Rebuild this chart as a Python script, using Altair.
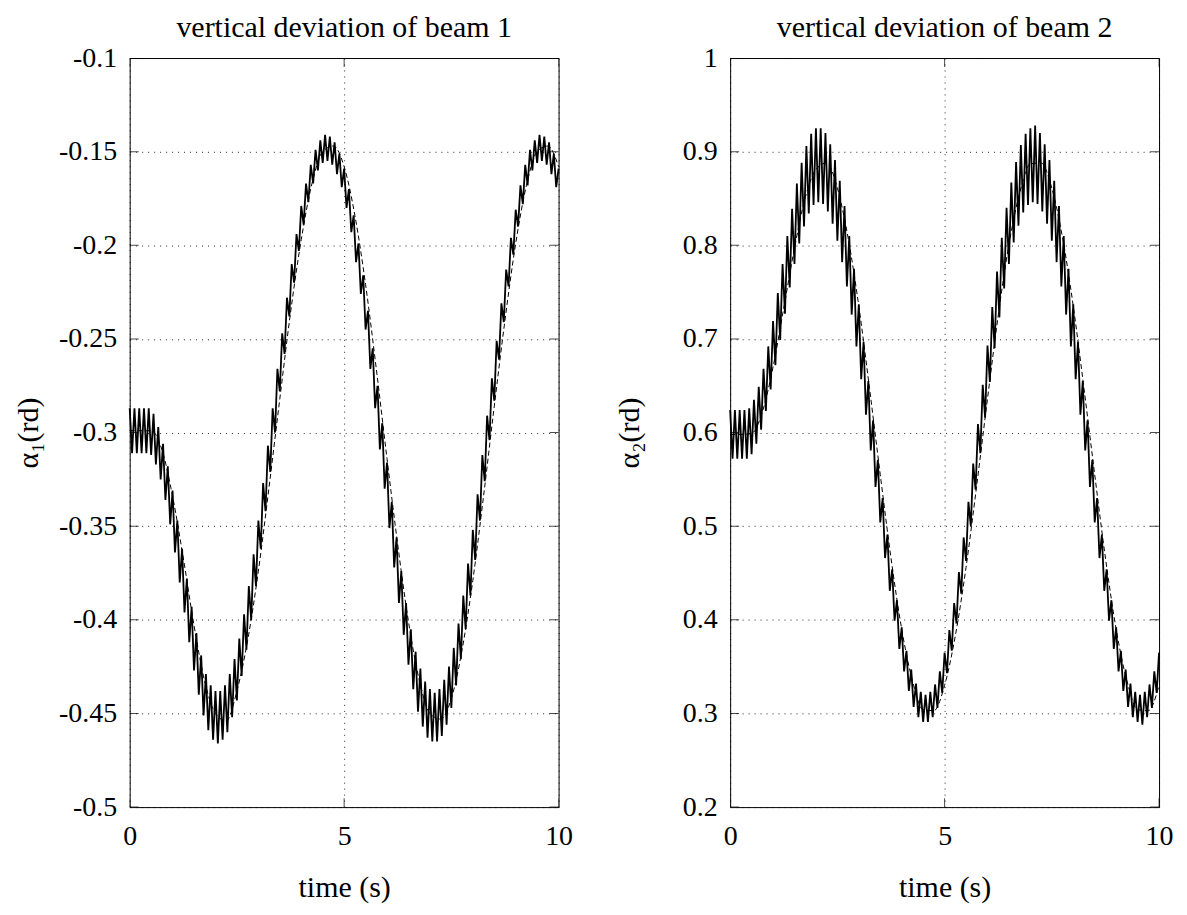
import altair as alt
import pandas as pd

FONT = "Liberation Serif"

# sample times of the oscillating (measured) signals, one extremum per sample
t_osc = [round(k * 10 / 180, 4) for k in range(181)]
# sample times of the dashed reference curves
t_ref = [k * 0.25 for k in range(41)]

x_ticks = [0, 5, 10]
y_ticks_1 = [-0.5, -0.45, -0.4, -0.35, -0.3, -0.25, -0.2, -0.15, -0.1]
y_ticks_2 = [0.2, 0.3, 0.4, 0.5, 0.6, 0.7, 0.8, 0.9, 1.0]

# beam 1: measured alpha_1 (extrema of the fast oscillation)
osc1 = [
    -0.287, -0.311, -0.287, -0.311, -0.287, -0.311, -0.287, -0.311,
    -0.287, -0.312, -0.290, -0.317, -0.297, -0.325, -0.306, -0.336, -0.318, -0.349, -0.331, -0.364,
    -0.347, -0.380, -0.362, -0.396, -0.378, -0.412, -0.393, -0.427, -0.407, -0.440,
    -0.419, -0.451, -0.429, -0.459, -0.435, -0.464, -0.438, -0.466, -0.438, -0.464,
    -0.435, -0.460, -0.429, -0.452, -0.421, -0.443, -0.410, -0.430, -0.397, -0.416,
    -0.382, -0.400, -0.365, -0.382, -0.347, -0.362, -0.327, -0.342, -0.307, -0.321,
    -0.287, -0.300, -0.266, -0.278, -0.247, -0.258, -0.228, -0.238, -0.210, -0.220,
    -0.194, -0.203, -0.179, -0.189, -0.167, -0.177, -0.157, -0.167, -0.149, -0.160,
    -0.144, -0.156, -0.141, -0.155, -0.142, -0.157, -0.145, -0.162, -0.151, -0.169,
    -0.159, -0.180, -0.170, -0.193, -0.184, -0.209, -0.199, -0.226, -0.216, -0.245,
    -0.235, -0.266, -0.255, -0.287, -0.275, -0.309, -0.295, -0.330, -0.316, -0.351,
    -0.337, -0.372, -0.356, -0.391, -0.374, -0.408, -0.391, -0.424, -0.405, -0.437,
    -0.417, -0.449, -0.426, -0.457, -0.433, -0.463, -0.437, -0.465, -0.439, -0.465,
    -0.437, -0.462, -0.432, -0.456, -0.425, -0.447, -0.415, -0.435, -0.402, -0.421,
    -0.387, -0.405, -0.370, -0.387, -0.352, -0.368, -0.333, -0.347, -0.312, -0.326,
    -0.291, -0.304, -0.271, -0.283, -0.251, -0.261, -0.231, -0.241, -0.213, -0.222,
    -0.196, -0.205, -0.181, -0.190, -0.168, -0.178, -0.157, -0.168, -0.149, -0.160,
    -0.144, -0.156, -0.141, -0.155, -0.142, -0.157, -0.145, -0.162, -0.151, -0.169, -0.159,
]

# beam 1: reference (dashed)
ref1 = [
    -0.299, -0.299, -0.299, -0.309, -0.334, -0.367, -0.403, -0.433, -0.450, -0.454,
    -0.438, -0.411, -0.374, -0.329, -0.282, -0.236, -0.197, -0.167, -0.150, -0.147,
    -0.158, -0.184, -0.221, -0.266, -0.314, -0.360, -0.401, -0.432, -0.450, -0.453,
    -0.442, -0.416, -0.379, -0.334, -0.286, -0.240, -0.199, -0.168, -0.150, -0.147,
    -0.158,
]

# beam 2: measured alpha_2 (extrema of the fast oscillation)
osc2 = [
    0.624, 0.572, 0.624, 0.572, 0.624, 0.572, 0.624, 0.572,
    0.626, 0.577, 0.635, 0.588, 0.649, 0.603, 0.668, 0.623, 0.692, 0.646, 0.719, 0.672,
    0.749, 0.699, 0.780, 0.727, 0.810, 0.755, 0.839, 0.780, 0.866, 0.802,
    0.888, 0.820, 0.906, 0.834, 0.919, 0.843, 0.925, 0.846, 0.925, 0.844,
    0.920, 0.836, 0.908, 0.823, 0.891, 0.805, 0.869, 0.782, 0.842, 0.756,
    0.810, 0.726, 0.775, 0.692, 0.737, 0.657, 0.697, 0.619, 0.655, 0.581,
    0.613, 0.542, 0.571, 0.504, 0.530, 0.466, 0.491, 0.431, 0.454, 0.399,
    0.421, 0.369, 0.392, 0.345, 0.367, 0.324, 0.347, 0.307, 0.332, 0.296,
    0.323, 0.291, 0.320, 0.291, 0.323, 0.296, 0.331, 0.306, 0.345, 0.322,
    0.365, 0.343, 0.389, 0.367, 0.418, 0.396, 0.451, 0.428, 0.488, 0.463,
    0.526, 0.500, 0.567, 0.539, 0.609, 0.578, 0.651, 0.616, 0.693, 0.654,
    0.734, 0.690, 0.772, 0.723, 0.808, 0.754, 0.840, 0.780, 0.867, 0.803,
    0.889, 0.821, 0.907, 0.835, 0.919, 0.843, 0.925, 0.846, 0.928, 0.844,
    0.920, 0.836, 0.908, 0.823, 0.891, 0.805, 0.869, 0.782, 0.842, 0.756,
    0.810, 0.726, 0.775, 0.692, 0.737, 0.657, 0.697, 0.619, 0.655, 0.581,
    0.613, 0.542, 0.571, 0.504, 0.530, 0.466, 0.491, 0.431, 0.454, 0.399,
    0.421, 0.369, 0.392, 0.345, 0.367, 0.324, 0.347, 0.307, 0.332, 0.296,
    0.323, 0.291, 0.320, 0.288, 0.323, 0.296, 0.331, 0.306, 0.345, 0.322, 0.365,
]

# beam 2: reference (dashed)
ref2 = [
    0.598, 0.598, 0.599, 0.622, 0.670, 0.733, 0.797, 0.851, 0.881, 0.888,
    0.861, 0.808, 0.735, 0.647, 0.555, 0.466, 0.390, 0.335, 0.304, 0.303,
    0.330, 0.383, 0.456, 0.544, 0.636, 0.725, 0.801, 0.856, 0.887, 0.888,
    0.861, 0.808, 0.735, 0.647, 0.555, 0.466, 0.390, 0.335, 0.304, 0.303,
    0.330,
]

PW, PH = 430, 751
TICK_LEN = 18  # centred on the frame and clipped -> 9px inward


def panel(osc, ref, yticks, ytitle, title, fmt):
    ydom = [yticks[0], yticks[-1]]
    xs = alt.Scale(domain=[0, 10], nice=False, zero=False)
    ys = alt.Scale(domain=ydom, nice=False, zero=False)
    xaxis = alt.Axis(
        values=x_ticks, title="time (s)", format="d", grid=True,
        labelFlush=False, labelOverlap=False, labelPadding=15, titlePadding=23,
    )
    yaxis = alt.Axis(
        values=yticks, title=ytitle, grid=True, labelFlush=False, labelOverlap=False,
        labelExpr="replace(format(datum.value, '" + fmt + "'), '\u2212', '-')",
        labelPadding=13, titlePadding=16, minExtent=70, maxExtent=70,
    )
    X = lambda f: alt.X(f, type="quantitative", scale=xs, axis=xaxis, title="time (s)")
    Y = lambda f: alt.Y(f, type="quantitative", scale=ys, axis=yaxis, title=ytitle)

    df_osc = pd.DataFrame({"t": t_osc, "v": osc})
    df_ref = pd.DataFrame({"t": t_ref, "v": ref})
    df_y = pd.DataFrame({"y": yticks})
    df_x = pd.DataFrame({"x": x_ticks})

    meas = alt.Chart(df_osc).mark_line(color="black", strokeWidth=1.8).encode(
        x=X("t"), y=Y("v"))
    refl = alt.Chart(df_ref).mark_line(
        color="black", strokeWidth=1, strokeDash=[5, 3], interpolate="monotone"
    ).encode(x=X("t"), y=Y("v"))
    tick_style = dict(color="black", size=TICK_LEN, thickness=1, clip=True)
    yt_left = alt.Chart(df_y).mark_tick(orient="horizontal", **tick_style).encode(
        x=alt.datum(0), y=Y("y"))
    yt_right = alt.Chart(df_y).mark_tick(orient="horizontal", **tick_style).encode(
        x=alt.datum(10), y=Y("y"))
    xt_bot = alt.Chart(df_x).mark_tick(orient="vertical", **tick_style).encode(
        x=X("x"), y=alt.datum(ydom[0]))
    xt_top = alt.Chart(df_x).mark_tick(orient="vertical", **tick_style).encode(
        x=X("x"), y=alt.datum(ydom[1]))

    return alt.layer(meas, refl, yt_left, yt_right, xt_bot, xt_top).properties(
        width=PW, height=PH,
        title=alt.TitleParams(
            text=title, font=FONT, fontSize=30, fontWeight="normal", color="black",
            offset=1, frame="group", anchor="middle",
        ),
    )


p1 = panel(osc1, ref1, y_ticks_1, "\u03b1\u2081(rd)", "vertical deviation of beam 1", ".2~f")
p2 = panel(osc2, ref2, y_ticks_2, "\u03b1\u2082(rd)", "vertical deviation of beam 2", ".1~f")

chart = alt.hconcat(p1, p2, spacing=172, bounds="flush").properties(
    padding={"left": 5, "top": 3, "right": 5, "bottom": 2},
    background="white",
).configure_view(
    stroke="black", strokeWidth=1, fill="white",
).configure_axis(
    labelFont=FONT, titleFont=FONT, labelFontSize=28, titleFontSize=30,
    titleFontWeight="normal", labelColor="black", titleColor="black",
    domain=False, ticks=False,
    gridColor="black", gridDash=[1, 5], gridWidth=1, gridOpacity=0.85,
)

chart.save("out.html", embed_options={"renderer": "svg", "actions": False})
